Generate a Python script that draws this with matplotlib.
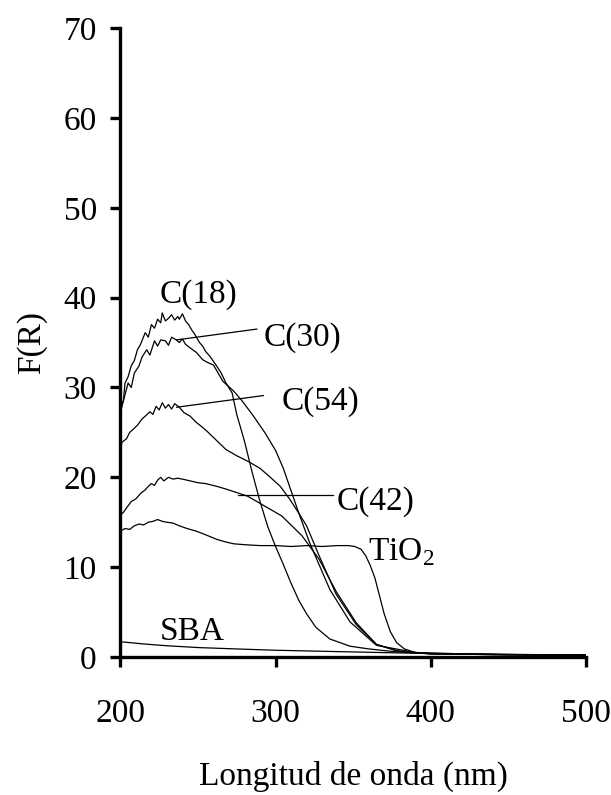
import matplotlib
matplotlib.use("Agg")
import matplotlib.pyplot as plt

plt.rcParams['font.family'] = ['Liberation Serif', 'DejaVu Serif']
plt.rcParams['mathtext.fontset'] = 'custom'
plt.rcParams['mathtext.rm'] = 'Liberation Serif'

# wavelength (nm) / F(R)
c18_x = [200, 202, 203, 205, 207, 209, 211, 213, 216, 218, 220, 222, 224, 226, 227, 229, 231, 233, 235, 237,
         238, 240, 242, 244, 246, 248, 251, 253, 255, 258, 262, 265, 268, 272, 275, 280, 285, 290, 295,
         300, 305, 310, 315, 320, 326, 335, 348, 360, 376, 400, 450, 500]
c18_y = [27.4, 28.6, 30.5, 31.2, 32.4, 33.0, 34.2, 34.8, 36.1, 35.6, 37.0, 36.6, 37.6, 37.2, 38.3, 37.4, 37.7, 38.1, 37.5, 37.9,
         37.6, 38.2, 37.4, 37.0, 36.4, 35.9, 35.0, 34.6, 34.0, 33.4, 32.4, 31.6, 30.5, 29.4, 27.0, 24.0, 20.5, 17.3, 14.5,
         12.3, 10.3, 8.2, 6.3, 4.8, 3.3, 2.0, 1.2, 0.9, 0.6, 0.4, 0.3, 0.2]

c30_x = [200, 201, 203, 205, 207, 209, 212, 214, 217, 219, 222, 224, 226, 229, 231, 233, 236, 238, 240, 242,
         245, 249, 253, 256, 260, 266, 273, 278, 285, 293, 300, 305, 310, 315, 322, 335, 348, 365, 390, 420, 460, 500]
c30_y = [27.0, 27.9, 29.2, 30.5, 30.0, 31.6, 32.4, 33.4, 34.2, 33.6, 35.2, 34.6, 35.3, 35.2, 34.7, 35.6, 35.3, 35.0, 35.4, 34.8,
         34.4, 33.9, 33.1, 32.8, 32.5, 30.7, 29.6, 28.6, 27.0, 25.0, 23.0, 21.0, 18.5, 16.0, 12.7, 7.5, 3.9, 1.3, 0.5, 0.35, 0.25, 0.2]

c54_x = [200, 201, 204, 206, 208, 211, 214, 216, 219, 221, 223, 225, 227, 229, 231, 233, 235, 238, 241, 245,
         249, 252, 256, 262, 268, 275, 282, 290, 296, 303, 309, 315, 320, 328, 339, 352, 365, 380, 400, 450, 500]
c54_y = [23.0, 23.9, 24.3, 25.0, 25.3, 25.8, 26.5, 26.8, 27.3, 27.0, 27.9, 27.5, 28.3, 27.7, 28.1, 27.6, 28.2, 27.8, 27.2, 26.8,
         26.1, 25.7, 25.1, 24.1, 23.1, 22.4, 21.8, 21.0, 20.1, 19.0, 17.6, 16.0, 14.6, 11.3, 7.0, 3.6, 1.4, 0.6, 0.35, 0.25, 0.2]

c42_x = [200, 202, 204, 207, 210, 213, 216, 218, 220, 222, 224, 226, 228, 231, 234, 237, 240, 245, 250, 255,
         262, 268, 275, 282, 291, 304, 317, 328, 339, 352, 365, 378, 400, 450, 500]
c42_y = [15.8, 16.1, 16.6, 17.3, 17.6, 18.2, 18.6, 19.0, 19.3, 19.1, 19.7, 20.0, 19.6, 20.0, 19.8, 19.9, 19.8, 19.6, 19.4, 19.3,
         19.0, 18.7, 18.3, 17.9, 17.0, 15.7, 13.5, 10.9, 7.3, 3.8, 1.4, 0.7, 0.35, 0.25, 0.2]

tio2_x = [200, 203, 206, 209, 212, 215, 218, 221, 224, 227, 230, 234, 238, 243, 249, 255, 262, 268, 273, 280,
          290, 300, 310, 320, 330, 340, 347, 351, 355, 358, 361, 364, 367, 370, 374, 378, 383, 390, 400, 450, 500]
tio2_y = [14.0, 14.3, 14.2, 14.6, 14.8, 14.7, 15.0, 15.1, 15.3, 15.1, 15.0, 14.9, 14.6, 14.3, 14.0, 13.6, 13.1, 12.8, 12.6, 12.5,
          12.4, 12.4, 12.3, 12.4, 12.3, 12.4, 12.4, 12.3, 12.0, 11.3, 10.2, 8.8, 6.8, 4.8, 2.8, 1.6, 0.9, 0.5, 0.35, 0.25, 0.2]

sba_x = [200, 215, 230, 250, 274, 300, 340, 380, 420, 460, 500]
sba_y = [1.7, 1.45, 1.25, 1.05, 0.9, 0.75, 0.6, 0.45, 0.3, 0.25, 0.2]

fig = plt.figure(figsize=(6.11, 7.95), dpi=100)
ax = fig.add_axes([0.197, 0.1736, 0.762, 0.791])

for xs, ys in [(c18_x, c18_y), (c30_x, c30_y), (c54_x, c54_y), (c42_x, c42_y), (tio2_x, tio2_y), (sba_x, sba_y)]:
    ax.plot(xs, ys, color='black', lw=0.9)

fs = 24
# labels and leader lines
ax.text(225.5, 40.3, 'C(18)', fontsize=fs, ha='left', va='center')
ax.plot([236.3, 287.9], [35.3, 36.5], color='black', lw=0.9)
ax.text(292, 35.6, 'C(30)', fontsize=fs, ha='left', va='center')
ax.plot([236.3, 292.1], [27.8, 29.1], color='black', lw=0.9)
ax.text(304, 28.4, 'C(54)', fontsize=fs, ha='left', va='center')
ax.plot([276, 337.3], [18.0, 18.0], color='black', lw=0.9)
ax.text(339.5, 17.3, 'C(42)', fontsize=fs, ha='left', va='center')
ax.text(359.7, 11.7, 'TiO$_2$', fontsize=fs, ha='left', va='center')
ax.text(225.5, 2.8, 'SBA', fontsize=fs, ha='left', va='center')

ax.set_xlim(200, 500)
ax.set_ylim(0, 70)
ax.set_xticks([200, 300, 400, 500])
ax.set_yticks(range(0, 80, 10))
ax.spines['top'].set_visible(False)
ax.spines['right'].set_visible(False)
ax.spines['left'].set_linewidth(2.4)
ax.spines['bottom'].set_linewidth(2.4)
ax.tick_params(axis='both', direction='out', length=7, width=2.4, labelsize=fs)
ax.tick_params(axis='x', pad=23)
ax.tick_params(axis='y', pad=10)

ax.set_xlabel('Longitud de onda (nm)', fontsize=fs, labelpad=23)
ax.set_ylabel('F(R)', fontsize=fs, labelpad=12)

fig.savefig('out.png', dpi=100)
